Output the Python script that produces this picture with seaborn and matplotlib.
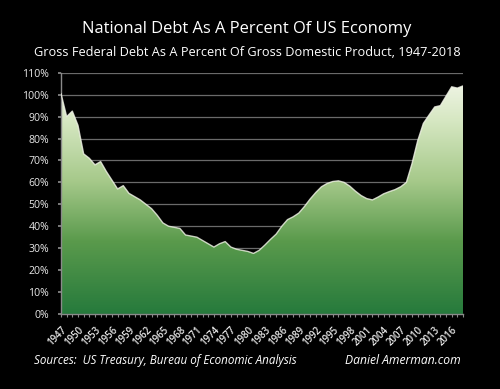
import numpy as np
import pandas as pd
import matplotlib
matplotlib.use("Agg")
import matplotlib.pyplot as plt
from matplotlib.colors import LinearSegmentedColormap
import seaborn as sns

years = list(range(1947, 2019))
debt_pct = [100.5, 90.0, 92.5, 86.0, 73.0, 71.0, 68.0, 69.5, 65.0, 61.0,
            57.0, 58.5, 55.0, 53.5, 52.0, 50.0, 48.0, 45.0, 41.5, 40.0,
            39.5, 39.0, 36.0, 35.5, 35.0, 33.5, 32.0, 30.5, 32.0, 33.0,
            30.5, 29.5, 29.0, 28.5, 27.6, 29.0, 31.4, 34.0, 36.4, 40.0,
            43.0, 44.3, 46.0, 49.0, 52.4, 55.4, 58.0, 59.5, 60.4, 60.7,
            60.0, 58.3, 56.0, 54.0, 52.6, 52.0, 53.3, 54.8, 55.8, 56.7,
            58.0, 60.0, 68.6, 79.0, 86.9, 90.7, 94.4, 95.0, 99.3, 103.6,
            103.0, 104.0]
y_ticks = list(range(0, 111, 10))
x_tick_years = list(range(1947, 2018, 3))
title = "National Debt As A Percent Of US Economy"
subtitle = "Gross Federal Debt As A Percent Of Gross Domestic Product, 1947-2018"
source_text = "Sources:  US Treasury, Bureau of Economic Analysis"
credit_text = "Daniel Amerman.com"

df = pd.DataFrame({"year": years, "debt": debt_pct})

sns.set_theme(style="dark")
plt.rcParams["font.family"] = ["Open Sans", "DejaVu Sans"]

fig = plt.figure(figsize=(5.0, 3.89), dpi=100, facecolor="black")
ax = fig.add_axes([0.122, 0.193, 0.804, 0.620])
ax.set_facecolor("black")

# gradient fill clipped to the area
poly = ax.fill_between(df["year"], df["debt"], 0, color="none", lw=0)
cmap = LinearSegmentedColormap.from_list(
    "g", [(0.0, "#267a3c"), (0.3, "#5a9a4c"), (0.55, "#a6c98a"),
          (0.8, "#d6e7c2"), (1.0, "#f6f8ee")])
grad = np.linspace(0, 1, 256).reshape(-1, 1)
im = ax.imshow(grad, cmap=cmap, origin="lower", aspect="auto",
               extent=[1947, 2018, 0, 110], zorder=2)
clip = poly.get_paths()[0]
im.set_clip_path(clip, transform=ax.transData)

sns.lineplot(data=df, x="year", y="debt", ax=ax, color="#f4f6ea",
             lw=1.0, zorder=3, alpha=0.8)

ax.set_xlim(1947, 2018)
ax.set_ylim(0, 110)
ax.set_yticks(y_ticks)
ax.set_yticklabels([f"{v}%" for v in y_ticks], color="#e8e8e8", fontsize=7.6)
ax.set_xticks(x_tick_years)
ax.set_xticks(years, minor=True)
ax.set_xticklabels([str(y) for y in x_tick_years], rotation=45, ha="right",
                   rotation_mode="anchor", color="#e8e8e8", fontsize=7.0,
                   fontweight="semibold")
ax.set_xlabel("")
ax.set_ylabel("")
ax.grid(axis="y", color="#6a6a6a", lw=0.9, zorder=1)
ax.grid(axis="x", visible=False)
for s in ["top", "right"]:
    ax.spines[s].set_visible(False)
for s in ["left", "bottom"]:
    ax.spines[s].set_visible(True)
    ax.spines[s].set_color("#8a8a8a")
    ax.spines[s].set_linewidth(1.0)
ax.tick_params(axis="x", which="both", bottom=True, color="#8a8a8a",
               length=2.5, width=0.8, pad=5)
ax.tick_params(axis="y", left=True, color="#8a8a8a", length=2.5, pad=6)

fig.text(0.494, 0.925, title, ha="center", va="center", color="white",
         fontsize=11.9)
fig.text(0.494, 0.866, subtitle, ha="center", va="center", color="white",
         fontsize=9.2)
fig.text(0.068, 0.072, source_text, ha="left", va="center", color="white",
         fontsize=8.4, style="italic")
fig.text(0.922, 0.072, credit_text, ha="right", va="center", color="white",
         fontsize=8.7, style="italic")

fig.savefig("out.png", dpi=100, facecolor="black")
